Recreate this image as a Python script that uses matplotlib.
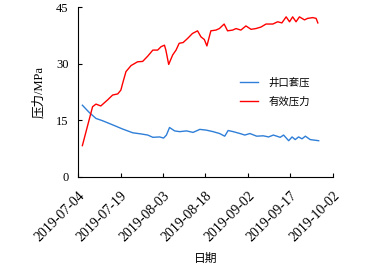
import numpy as np
import pandas as pd
import matplotlib
matplotlib.use('Agg')
import matplotlib.pyplot as plt
from matplotlib.transforms import ScaledTranslation

plt.rcParams['font.family'] = ['Liberation Serif', 'Noto Sans CJK SC']

start = pd.Timestamp('2019-07-04')

# days since 2019-07-04 and values (MPa)
casing_days = [1.5, 3.9, 6.3, 8.6, 12.2, 15.7, 19.3, 22.2, 24.6, 26.4, 28.8, 30.2, 31.2,
               32.3, 34.1, 35.9, 38.3, 40.6, 43.0, 45.3, 47.7, 50.0, 51.8, 53.0, 54.8,
               57.2, 58.9, 60.7, 63.1, 65.4, 67.3, 69.0, 71.4, 72.6, 74.4, 75.6, 76.7,
               77.9, 79.1, 80.3, 82.0, 85.0]
casing_p = [19.0, 17.1, 15.5, 14.9, 13.8, 12.7, 11.7, 11.4, 11.1, 10.5, 10.6, 10.3, 11.1,
            13.1, 12.2, 12.0, 12.2, 11.8, 12.6, 12.4, 12.0, 11.5, 10.8, 12.3, 12.0,
            11.5, 11.1, 11.5, 10.8, 10.9, 10.6, 11.1, 10.5, 11.1, 9.6, 10.6, 9.9,
            10.6, 10.1, 10.8, 9.9, 9.6]

eff_days = [1.5, 5.1, 6.3, 8.0, 10.4, 12.2, 14.0, 15.1, 15.7, 16.9, 18.7, 21.0, 22.8,
            24.6, 26.4, 28.1, 29.3, 30.5, 31.0, 32.0, 33.4, 34.6, 35.7, 37.1, 38.7,
            40.4, 42.2, 43.4, 44.6, 45.5, 46.9, 48.7, 49.9, 51.6, 52.8, 54.6, 55.8,
            57.5, 59.3, 61.1, 62.8, 64.6, 66.4, 68.8, 70.5, 72.0, 73.5, 74.7, 75.8,
            77.0, 78.2, 80.0, 81.1, 82.9, 84.1, 84.7]
eff_p = [8.3, 18.6, 19.3, 18.8, 20.4, 21.7, 22.0, 23.0, 24.7, 27.9, 29.5, 30.5, 30.6,
         32.0, 33.6, 33.6, 34.5, 34.9, 33.6, 29.8, 32.3, 33.6, 35.4, 35.6, 36.7,
         38.0, 38.7, 37.1, 36.4, 34.7, 38.7, 38.9, 39.3, 40.5, 38.7, 38.9, 39.3,
         38.9, 40.0, 39.1, 39.3, 39.7, 40.5, 40.5, 41.1, 40.8, 42.4, 41.1, 42.4,
         41.1, 42.4, 41.6, 42.0, 42.2, 42.0, 40.8]

tick_dates = ['2019-07-04', '2019-07-19', '2019-08-03', '2019-08-18',
              '2019-09-02', '2019-09-17', '2019-10-02']

fig = plt.figure(figsize=(3.83, 2.71), dpi=100)
ax = fig.add_axes([0.204, 0.347, 0.665, 0.627])

t1 = start + pd.to_timedelta(casing_days, unit='D')
t2 = start + pd.to_timedelta(eff_days, unit='D')
ax.plot(t1, casing_p, color='#2F7FD8', lw=1.0, label='井口套压')
ax.plot(t2, eff_p, color='#FF0000', lw=1.0, label='有效压力')

ticks = pd.to_datetime(tick_dates)
ax.set_xlim(ticks[0], ticks[-1])
ax.set_xticks(ticks)
ax.set_xticklabels(tick_dates, rotation=45, ha='right', rotation_mode='anchor', fontsize=10)
# nudge the slanted date labels right, as in the original
shift = ScaledTranslation(6 / 100, 0, fig.dpi_scale_trans)
for lab in ax.get_xticklabels():
    lab.set_transform(lab.get_transform() + shift)
ax.set_ylim(0, 45)
ax.set_yticks([0, 15, 30, 45])
ax.tick_params(axis='y', labelsize=9, pad=7)
ax.tick_params(axis='x', pad=9)
ax.tick_params(direction='in', length=3, width=0.8)
for s in ['top', 'right']:
    ax.spines[s].set_visible(False)

ax.set_ylabel('压力/MPa', fontsize=9, labelpad=8)
ax.set_xlabel('日期', fontsize=8.5, labelpad=6)
ax.legend(loc='center left', bbox_to_anchor=(0.6, 0.5), frameon=False,
          fontsize=7.5, handlelength=1.7, handletextpad=1.0, labelspacing=0.8)

fig.savefig('out.png', dpi=100)
